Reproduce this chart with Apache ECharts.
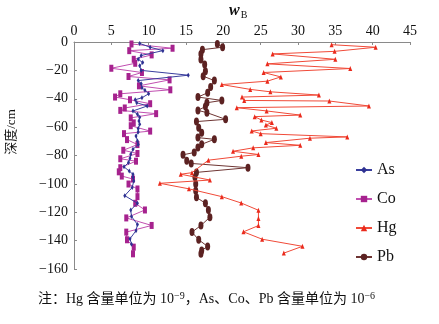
<!DOCTYPE html>
<html><head><meta charset="utf-8">
<script src="https://cdn.jsdelivr.net/npm/echarts@6/dist/echarts.min.js"></script>
<style>html,body{margin:0;padding:0;background:#fff}#c{width:439px;height:324px}</style>
</head><body><div id="c"></div>
<script>
const asDepth = [-1,-3.7,-6.1,-9.5,-12.2,-14.5,-16.8,-20,-23.4,-27.2,-29.5,-32.3,-34,-36.5,-39.3,-40.7,-42.8,-45.1,-48.6,-51,-53,-55.6,-58,-61,-63.5,-66.2,-69.7,-72.3,-75.6,-79.1,-82,-85,-88,-91,-93.3,-95.4,-98,-102.5,-108.3,-113.7,-118.4,-123,-128.6,-133,-138.7,-142.5];
const asValue = [8.8,10.2,11.9,9.0,8.6,9.2,8.8,9.0,15.3,8.6,9.0,9.1,9.5,10.0,9.1,8.2,8.4,9.8,7.9,8.5,8.8,8.7,8.8,8.6,8.6,8.3,8.5,8.6,7.9,7.6,7.5,7.3,6.7,7.4,7.9,7.9,8.0,7.8,6.8,8.5,7.6,7.7,8.5,8.3,7.5,7.7];
const coDepth = [-1.4,-4.4,-6.1,-9.1,-12.2,-15,-18.5,-21.5,-24.3,-26.7,-30.9,-33.7,-36.5,-38.8,-40.7,-43.5,-46.5,-48.2,-50.5,-53.5,-57,-59,-62.8,-64.6,-68.8,-72.3,-76.3,-78.6,-82.3,-84,-88.6,-91.5,-94.5,-96.6,-100.1,-103.6,-109,-113.7,-118.4,-124,-129.3,-134,-139.4,-144.6,-149.3];
const coValue = [7.7,13.2,7.4,10.4,8.0,8.2,5.0,9.1,7.3,12.8,8.7,12.9,6.2,5.5,7.5,10.2,6.8,6.2,11.0,7.6,8.0,7.6,10.2,6.7,7.1,8.5,6.6,8.5,6.2,8.3,6.2,6.0,6.4,7.9,7.3,8.5,8.5,8.2,9.5,7.0,10.4,7.0,7.1,8.0,7.9];
const hgDepth = [-1.9,-3.7,-6.6,-8.4,-12.2,-15.4,-18.7,-21.5,-24.6,-27.6,-30,-33.4,-35.1,-37.4,-38.8,-41.2,-41.6,-45.1,-46.3,-48.6,-51.5,-52.6,-55,-56.8,-58.5,-60.8,-62.7,-64.6,-66.9,-67.8,-70.9,-72.8,-74.6,-77,-79.3,-80.5,-83.3,-92.1,-93.2,-97.3,-99.6,-103.5,-109,-113.5,-118.6,-124.4,-129.4,-133.8,-139,-144,-148.8];
const hgValue = [34.5,40.4,34.9,26.6,35.0,25.9,37.0,25.4,27.7,25.9,19.8,23.6,26.3,32.8,22.5,22.8,34.2,39.5,21.8,25.8,30.3,24.2,25.1,26.5,25.7,27.1,23.8,25.0,36.6,31.6,25.7,30.3,24.0,21.3,24.7,22.4,18.0,15.8,14.3,18.2,11.5,15.4,19.8,22.4,24.7,24.7,24.7,22.7,25.2,30.6,28.1];
const pbDepth = [-1.4,-3.7,-5.4,-8.5,-12.4,-15.9,-20.6,-24.1,-27.2,-31.8,-35.8,-38.8,-41.2,-42.8,-45.5,-48.2,-49.8,-54.5,-56.1,-60.4,-63.9,-67.4,-68.6,-72.1,-74.4,-77.9,-79.5,-83.7,-85.6,-88.6,-91.9,-95.4,-100.1,-104.8,-109.5,-113.7,-118.4,-123.5,-129.3,-134,-139.4,-144.1,-146.9,-149.3];
const pbValue = [19.2,19.9,17.2,17.0,17.0,17.5,17.6,17.3,18.8,18.3,17.9,16.6,19.8,17.8,17.6,16.6,17.8,20.3,16.4,16.7,17.1,16.6,18.8,17.1,16.6,16.1,14.6,15.1,15.7,23.3,16.4,16.2,16.3,16.3,16.4,17.6,18.0,18.2,17.0,15.8,16.7,17.9,17.1,17.0];
const seriesNames = ['As','Co','Hg','Pb'];

const pairs = (v, d) => v.map((x, i) => [x, d[i]]);
const serif = 'Liberation Serif';
const chart = echarts.init(document.getElementById('c'), null, {renderer: 'canvas'});
chart.setOption({
  animation: false,
  grid: {left: 74, top: 42, right: 29, bottom: 55, containLabel: false},
  xAxis: {
    type: 'value', position: 'top', min: 0, max: 45, interval: 5,
    axisLine: {show: true, lineStyle: {color: '#8a8a8a', width: 1}},
    axisTick: {show: true, inside: true, length: 3, lineStyle: {color: '#8a8a8a'}},
    axisLabel: {fontFamily: serif, fontSize: 14, color: '#111', margin: 4},
    splitLine: {show: false}
  },
  yAxis: {
    type: 'value', min: -160, max: 0, interval: 20,
    axisLine: {show: true, lineStyle: {color: '#8a8a8a', width: 1}},
    axisTick: {show: true, inside: true, length: 3, lineStyle: {color: '#8a8a8a'}},
    axisLabel: {fontFamily: serif, fontSize: 14, color: '#111', margin: 6,
      formatter: v => v < 0 ? '\u2212' + (-v) : String(v)},
    splitLine: {show: false}
  },
  legend: {
    data: seriesNames, orient: 'vertical', left: 350, top: 157,
    itemWidth: 16, itemHeight: 8, itemGap: 13,
    textStyle: {fontFamily: serif, fontSize: 16, color: '#111'}
  },
  series: [
    {name: 'Pb', type: 'line', data: pairs(pbValue, pbDepth), symbol: 'circle', symbolSize: [5, 8],
     itemStyle: {color: '#5c2222'}, lineStyle: {color: '#6e3533', width: 1}, z: 2},
    {name: 'Hg', type: 'line', data: pairs(hgValue, hgDepth), symbol: 'triangle', symbolSize: [4, 5],
     itemStyle: {color: '#ea2a1c'}, lineStyle: {color: '#f04a38', width: 1}, z: 3},
    {name: 'Co', type: 'line', data: pairs(coValue, coDepth), symbol: 'rect', symbolSize: [4, 7],
     itemStyle: {color: '#a6228e'}, lineStyle: {color: '#c14fb0', width: 1}, z: 4},
    {name: 'As', type: 'line', data: pairs(asValue, asDepth), symbol: 'diamond', symbolSize: [3, 5],
     itemStyle: {color: '#2e3192'}, lineStyle: {color: '#3a3f9e', width: 1}, z: 5}
  ],
  graphic: [
    {type: 'text', left: 229, top: 3, style: {
      text: '{w|w}{b|B}', rich: {
        w: {fontFamily: serif, fontStyle: 'italic', fontWeight: 'bold', fontSize: 16, fill: '#111'},
        b: {fontFamily: serif, fontSize: 10, fill: '#111', padding: [8, 0, 0, 1]}
      }}},
    {type: 'text', x: 12, y: 132, rotation: Math.PI / 2, style: {
      text: '深度/cm', fontFamily: serif + ', Noto Sans CJK SC', fontSize: 13, fill: '#111',
      align: 'center', verticalAlign: 'middle'}},
    {type: 'text', left: 38, top: 291, style: {
      text: '{t|注\uFF1AHg 含量单位为 10}{s|\u22129}{t|\uFF0CAs\u3001Co\u3001Pb 含量单位为 10}{s|\u22126}', rich: {
        t: {fontFamily: serif + ', Noto Sans CJK SC', fontSize: 14, fill: '#111'},
        s: {fontFamily: serif, fontSize: 10, fill: '#111', padding: [0, 0, 7, 0]}
      }}}
  ]
});
</script></body></html>
